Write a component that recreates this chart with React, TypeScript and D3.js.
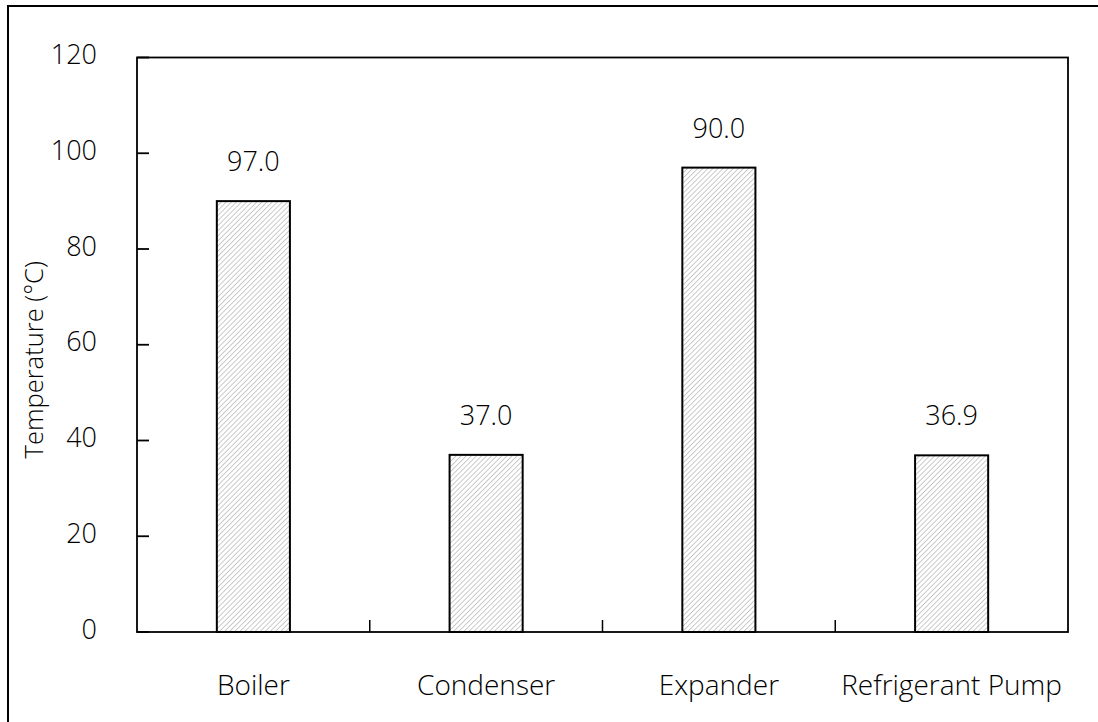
import React from "react";
import * as d3 from "d3";

const categories = ["Boiler", "Condenser", "Expander", "Refrigerant Pump"];
const barValues = [90, 37, 97, 36.9];
const valueLabels = ["97.0", "37.0", "90.0", "36.9"];
const yTicks = [0, 20, 40, 60, 80, 100, 120];
const yTitle = "Temperature (\u00B0C)";

const W = 1098;
const H = 722;
const FONT = "'Open Sans', 'Noto Sans', sans-serif";

export default function App() {
  const left = 137, right = 1068, top = 57.5, bottom = 632;
  const x = d3.scaleBand<string>().domain(categories).range([left, right]).paddingInner(0.686).paddingOuter(0.343);
  const y = d3.scaleLinear().domain([0, 120]).range([bottom, top]);
  const step = x.step();
  const boundaries = categories.slice(1).map((c) => (x(c) as number) - (step - x.bandwidth()) / 2);

  return (
    <svg width={W} height={H} style={{ position: "absolute", left: 0, top: 0, display: "block", background: "#fff" }} fontFamily={FONT} fontWeight={300}>
      <defs>
        <pattern id="hatch" width={3.6} height={3.6} patternUnits="userSpaceOnUse" patternTransform="rotate(45)">
          <rect width={3.6} height={3.6} fill="#fff" />
          <line x1={0} y1={0} x2={0} y2={3.6} stroke="#a8a8a8" strokeWidth={1.2} />
        </pattern>
      </defs>
      <rect x={8} y={6} width={W + 10} height={H + 10} fill="#fff" stroke="#000" strokeWidth={2} />
      {categories.map((c, i) => (
        <rect key={c} x={x(c)} y={y(barValues[i])} width={x.bandwidth()} height={y(0) - y(barValues[i])}
          fill="url(#hatch)" stroke="#000" strokeWidth={2} />
      ))}
      <rect x={left} y={top} width={right - left} height={bottom - top} fill="none" stroke="#000" strokeWidth={1.8} />
      {yTicks.map((t) => (
        <g key={t}>
          <line x1={left} x2={left + 12} y1={y(t)} y2={y(t)} stroke="#000" strokeWidth={1.8} />
          <text x={97} y={y(t) + 6.5} textAnchor="end" fontSize={27} fill="#000">{t}</text>
        </g>
      ))}
      {boundaries.map((b, i) => (
        <line key={i} x1={b} x2={b} y1={bottom} y2={bottom - 12} stroke="#000" strokeWidth={1.5} />
      ))}
      {categories.map((c) => (
        <text key={c} x={(x(c) as number) + x.bandwidth() / 2} y={695} textAnchor="middle" fontSize={28} fill="#000">{c}</text>
      ))}
      {categories.map((c, i) => (
        <text key={c} x={(x(c) as number) + x.bandwidth() / 2} y={y(barValues[i]) - 30} textAnchor="middle" fontSize={27} fill="#000">{valueLabels[i]}</text>
      ))}
      <text transform={`translate(43,${(top + bottom) / 2 + 15}) rotate(-90)`} textAnchor="middle" fontSize={25.5} fill="#000">{yTitle}</text>
    </svg>
  );
}
